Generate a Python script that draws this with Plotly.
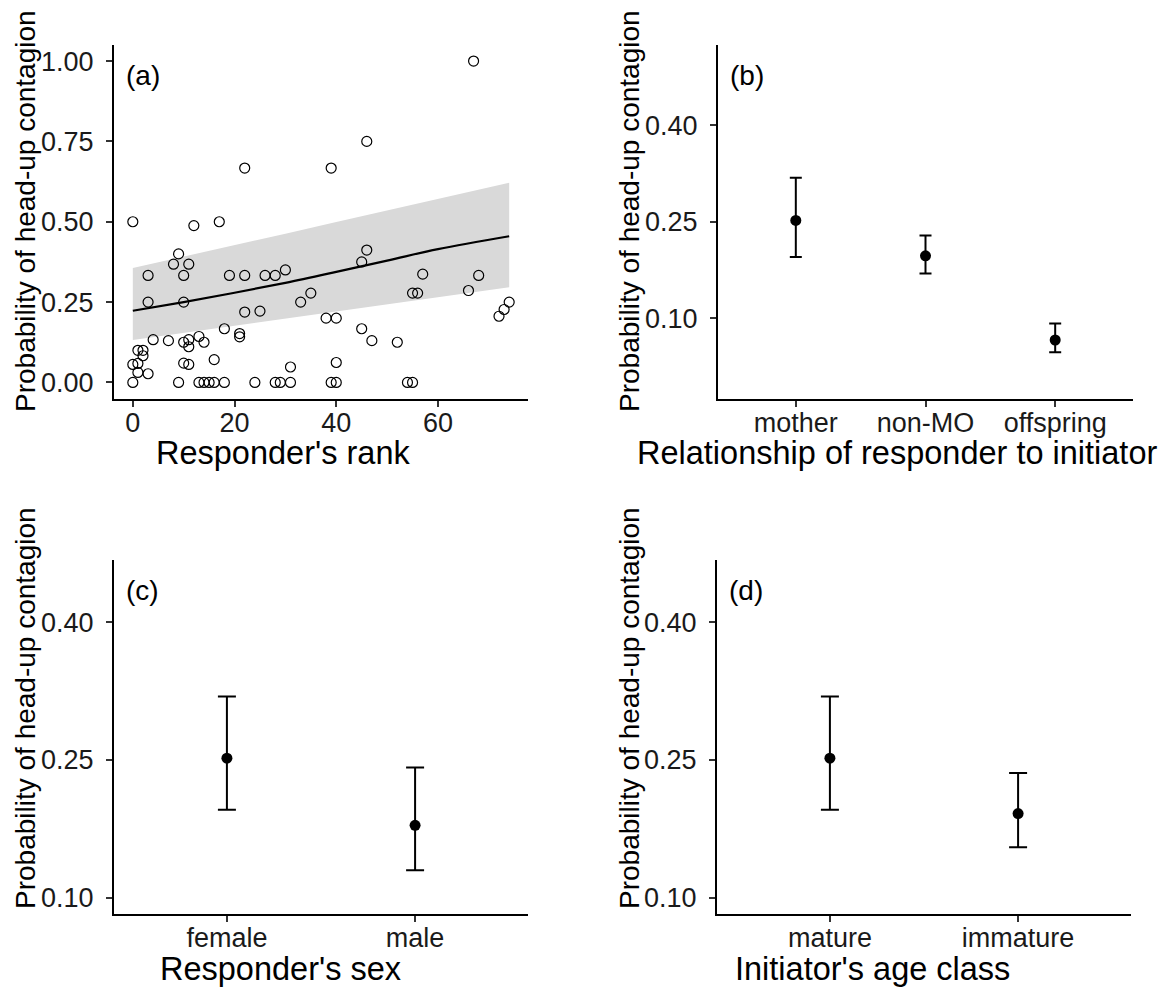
import plotly.graph_objects as go

# ---------------- data ----------------
# (a) responder's rank vs probability
rank = [67, 46, 22, 39, 0, 17, 12, 9, 8, 11, 3, 10, 19, 22, 26, 28, 30, 45, 46, 57,
        68, 66, 55, 56, 35, 33, 3, 10, 25, 22, 38, 40, 74, 73, 72, 45, 47, 52, 18, 21,
        21, 13, 4, 7, 10, 11, 11, 14, 1, 2, 2, 0, 1, 1, 3, 10, 11, 16, 31, 40,
        0, 9, 13, 14, 15, 16, 18, 24, 28, 29, 31, 39, 40, 54, 55]
prob = [1.0, 0.75, 0.667, 0.667, 0.5, 0.5, 0.488, 0.4, 0.368, 0.368, 0.333, 0.333, 0.333, 0.333, 0.333, 0.333, 0.35, 0.375, 0.412, 0.337,
        0.333, 0.286, 0.278, 0.278, 0.278, 0.25, 0.25, 0.25, 0.222, 0.219, 0.2, 0.2, 0.25, 0.227, 0.206, 0.167, 0.13, 0.125, 0.167, 0.152,
        0.142, 0.143, 0.133, 0.13, 0.125, 0.133, 0.111, 0.125, 0.1, 0.1, 0.083, 0.056, 0.059, 0.031, 0.027, 0.06, 0.056, 0.071, 0.048, 0.062,
        0, 0, 0, 0, 0, 0, 0, 0, 0, 0, 0, 0, 0, 0, 0]

fit_x = [0, 10, 20, 30, 40, 50, 60, 74]
fit_y = [0.223, 0.250, 0.279, 0.310, 0.344, 0.379, 0.415, 0.455]
fit_lo = [0.132, 0.154, 0.176, 0.199, 0.221, 0.243, 0.265, 0.296]
fit_hi = [0.356, 0.391, 0.427, 0.463, 0.499, 0.535, 0.571, 0.621]

# (b) relationship of responder to initiator
rel_cat = ["mother", "non-MO", "offspring"]
rel_est = [0.252, 0.197, 0.066]
rel_lo = [0.195, 0.1695, 0.047]
rel_hi = [0.3186, 0.2288, 0.0918]

# (c) responder's sex
sex_cat = ["female", "male"]
sex_est = [0.252, 0.179]
sex_lo = [0.196, 0.130]
sex_hi = [0.319, 0.2417]

# (d) initiator's age class
age_cat = ["mature", "immature"]
age_est = [0.252, 0.1917]
age_lo = [0.196, 0.1551]
age_hi = [0.319, 0.2359]

# ---------------- figure ----------------
W, H = 1172, 988
FONT = "Liberation Sans, Arial, sans-serif"
TICK_SIZE = 27
TITLE_SIZE = 28
XTITLE_SIZE = 32.5

fig = go.Figure()

# (a)
fig.add_trace(go.Scatter(x=fit_x, y=fit_hi, mode="lines", line=dict(width=0),
                         hoverinfo="skip", showlegend=False, xaxis="x", yaxis="y"))
fig.add_trace(go.Scatter(x=fit_x, y=fit_lo, mode="lines", line=dict(width=0),
                         fill="tonexty", fillcolor="#d9d9d9",
                         hoverinfo="skip", showlegend=False, xaxis="x", yaxis="y"))
fig.add_trace(go.Scatter(x=fit_x, y=fit_y, mode="lines", line=dict(color="black", width=2.2, shape="spline"),
                         showlegend=False, xaxis="x", yaxis="y"))
fig.add_trace(go.Scatter(x=rank, y=prob, mode="markers",
                         marker=dict(symbol="circle-open", size=10, color="black", line=dict(width=1.2)),
                         showlegend=False, xaxis="x", yaxis="y"))


def est_trace(cats, est, lo, hi, xa, ya, capw):
    return go.Scatter(
        x=cats, y=est, mode="markers",
        marker=dict(symbol="circle", size=11, color="black"),
        error_y=dict(type="data", symmetric=False,
                     array=[h - e for h, e in zip(hi, est)],
                     arrayminus=[e - l for e, l in zip(est, lo)],
                     color="black", thickness=2, width=capw),
        showlegend=False, xaxis=xa, yaxis=ya)


fig.add_trace(est_trace(rel_cat, rel_est, rel_lo, rel_hi, "x2", "y2", 6))
fig.add_trace(est_trace(sex_cat, sex_est, sex_lo, sex_hi, "x3", "y3", 9))
fig.add_trace(est_trace(age_cat, age_est, age_lo, age_hi, "x4", "y4", 9))

xl_a = [114 / W, 528 / W]
xl_b = [718 / W, 1133 / W]
xl_d = [717 / W, 1131 / W]
y_top = [1 - 398.5 / H, 1 - 45 / H]
y_bot = [1 - 914 / H, 1 - 560 / H]

axis_common = dict(showline=True, linecolor="black", linewidth=2, mirror=False,
                   ticks="outside", ticklen=6, tickwidth=1.5, tickcolor="#333333",
                   showgrid=False, zeroline=False, automargin=False,
                   tickfont=dict(family=FONT, size=TICK_SIZE, color="#1a1a1a"))
xax = dict(axis_common, ticklabelstandoff=-7)
yax = dict(axis_common, ticklabelstandoff=7)

fig.update_layout(
    template="none",
    width=W, height=H,
    margin=dict(l=0, r=0, t=0, b=0, autoexpand=False),
    paper_bgcolor="white", plot_bgcolor="white",
    font=dict(family=FONT, color="black"),
    xaxis=dict(domain=xl_a, anchor="y", range=[-3.7, 77.7], tickvals=[0, 20, 40, 60], **xax),
    yaxis=dict(domain=y_top, anchor="x", range=[-0.05, 1.05], tickvals=[0, 0.25, 0.5, 0.75, 1.0],
               tickformat=".2f", **yax),
    xaxis2=dict(domain=xl_b, anchor="y2", type="category", range=[-0.6, 2.6], **xax),
    yaxis2=dict(domain=y_top, anchor="x2", range=[-0.025, 0.525], tickvals=[0.10, 0.25, 0.40],
                tickformat=".2f", **yax),
    xaxis3=dict(domain=xl_a, anchor="y3", type="category", range=[-0.6, 1.6], **xax),
    yaxis3=dict(domain=y_bot, anchor="x3", range=[0.0825, 0.4675], tickvals=[0.10, 0.25, 0.40],
                tickformat=".2f", **yax),
    xaxis4=dict(domain=xl_d, anchor="y4", type="category", range=[-0.6, 1.6], **xax),
    yaxis4=dict(domain=y_bot, anchor="x4", range=[0.0825, 0.4675], tickvals=[0.10, 0.25, 0.40],
                tickformat=".2f", **yax),
)

ytitle = "Probability of head-up contagion"
anns = []
# panel letters
for lab, xd, ydom in [("(a)", "x domain", "y domain"), ("(b)", "x2 domain", "y2 domain"),
                      ("(c)", "x3 domain", "y3 domain"), ("(d)", "x4 domain", "y4 domain")]:
    anns.append(dict(text=lab, xref=xd, yref=ydom, x=0.025, y=0.915, xanchor="left", yanchor="middle",
                     showarrow=False, font=dict(family=FONT, size=TITLE_SIZE, color="black")))
# x titles
for txt, xc, yc in [("Responder's rank", 283, 453),
                    ("Relationship of responder to initiator", 897, 453),
                    ("Responder's sex", 280, 969),
                    ("Initiator's age class", 872, 969)]:
    anns.append(dict(text=txt, xref="paper", yref="paper", x=xc / W, y=1 - yc / H,
                     xanchor="center", yanchor="middle", showarrow=False,
                     font=dict(family=FONT, size=XTITLE_SIZE, color="black")))
# y titles
for xc, yc in [(25, 211), (629, 211), (25, 708), (629, 708)]:
    anns.append(dict(text=ytitle, xref="paper", yref="paper", x=xc / W, y=1 - yc / H,
                     xanchor="center", yanchor="middle", textangle=-90, showarrow=False,
                     font=dict(family=FONT, size=TITLE_SIZE, color="black")))
fig.update_layout(annotations=anns)

fig.write_html("out.html", config={"displayModeBar": False},
               post_script="document.body.style.margin='0px';")
